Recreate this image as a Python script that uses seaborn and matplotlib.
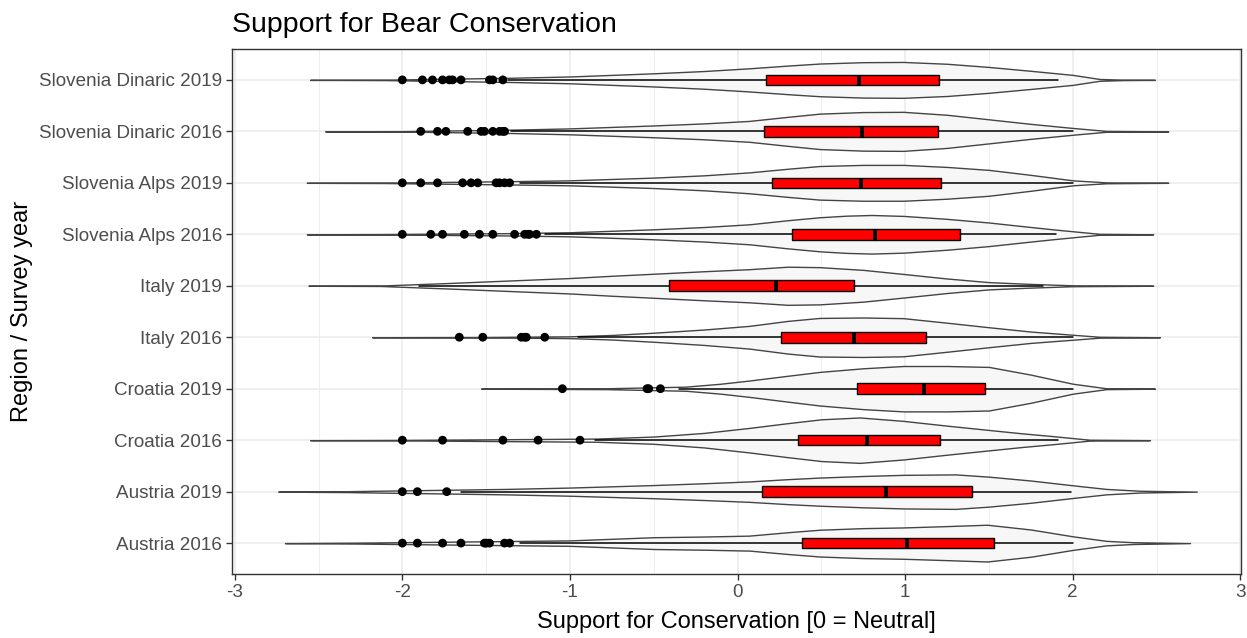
import numpy as np
import pandas as pd
import matplotlib
matplotlib.use("Agg")
import matplotlib.pyplot as plt
import seaborn as sns

# ---------------- data ----------------
categories = ["Austria 2016", "Austria 2019", "Croatia 2016", "Croatia 2019",
              "Italy 2016", "Italy 2019", "Slovenia Alps 2016", "Slovenia Alps 2019",
              "Slovenia Dinaric 2016", "Slovenia Dinaric 2019"]

q1 = [0.383, 0.148, 0.359, 0.711, 0.260, -0.407, 0.327, 0.204, 0.158, 0.168]
median = [1.013, 0.886, 0.775, 1.111, 0.695, 0.228, 0.820, 0.737, 0.745, 0.727]
q3 = [1.532, 1.401, 1.208, 1.477, 1.123, 0.695, 1.330, 1.212, 1.194, 1.204]
whisker_low = [-1.30, -1.65, -0.85, -0.35, -0.95, -1.90, -1.15, -1.30, -1.35, -1.37]
whisker_high = [2.00, 1.99, 1.91, 2.00, 2.00, 1.82, 1.90, 2.00, 2.00, 1.91]

outliers = [
    [-2.00, -1.91, -1.76, -1.65, -1.51, -1.50, -1.48, -1.39, -1.36],          # Austria 2016
    [-2.00, -1.91, -1.735],                                                   # Austria 2019
    [-2.00, -1.76, -1.40, -1.19, -0.94],                                      # Croatia 2016
    [-1.045, -0.54, -0.53, -0.46],                                            # Croatia 2019
    [-1.66, -1.52, -1.29, -1.27, -1.26, -1.15],                               # Italy 2016
    [],                                                                       # Italy 2019
    [-2.00, -1.83, -1.76, -1.63, -1.54, -1.46, -1.33, -1.27, -1.25, -1.24, -1.20],  # SA 2016
    [-2.00, -1.89, -1.79, -1.64, -1.59, -1.55, -1.44, -1.42, -1.39, -1.36],   # SA 2019
    [-1.89, -1.79, -1.74, -1.61, -1.53, -1.51, -1.46, -1.42, -1.40, -1.39],   # SD 2016
    [-2.00, -1.88, -1.82, -1.76, -1.72, -1.70, -1.65, -1.48, -1.46, -1.40],   # SD 2019
]

# violin outlines: support values and relative density (1 = widest violin)
violin_x = [
    [-2.70, -2.27, -1.00, -0.50, -0.20, 0.07, 0.30, 0.49, 0.75, 0.99, 1.25, 1.49, 1.75, 2.00, 2.20, 2.36, 2.70],
    [-2.74, -2.33, -1.38, -1.00, -0.50, -0.20, 0.07, 0.30, 0.49, 0.75, 0.99, 1.30, 1.50, 1.75, 2.00, 2.20, 2.40, 2.74],
    [-2.55, -2.00, -0.84, -0.50, -0.20, 0.07, 0.30, 0.50, 0.73, 0.99, 1.25, 1.50, 1.70, 1.88, 2.10, 2.46],
    [-1.53, -0.78, -0.31, -0.10, 0.07, 0.30, 0.49, 0.75, 0.99, 1.25, 1.50, 1.75, 2.00, 2.20, 2.49],
    [-2.18, -1.50, -1.00, -0.75, -0.50, -0.20, 0.07, 0.30, 0.49, 0.75, 0.99, 1.25, 1.50, 1.75, 2.00, 2.16, 2.52],
    [-2.56, -2.13, -1.73, -1.40, -1.00, -0.75, -0.50, -0.20, 0.07, 0.30, 0.49, 0.75, 0.99, 1.25, 1.50, 1.72, 2.00, 2.48],
    [-2.57, -2.10, -1.38, -1.00, -0.50, -0.20, 0.07, 0.30, 0.49, 0.65, 0.80, 0.99, 1.25, 1.50, 1.70, 1.88, 2.16, 2.48],
    [-2.57, -2.10, -1.38, -1.00, -0.50, -0.20, 0.07, 0.30, 0.49, 0.75, 0.99, 1.25, 1.50, 1.75, 2.00, 2.20, 2.57],
    [-2.46, -2.00, -1.38, -1.00, -0.50, -0.20, 0.07, 0.30, 0.49, 0.75, 0.99, 1.25, 1.50, 1.75, 2.00, 2.20, 2.57],
    [-2.55, -2.10, -1.38, -1.00, -0.50, -0.20, 0.07, 0.30, 0.49, 0.75, 0.99, 1.25, 1.50, 1.75, 2.00, 2.16, 2.30, 2.49],
]
violin_density = [
    [0, .02, .12, .26, .29, .33, .48, .59, .66, .69, .75, .81, .60, .30, .10, .04, 0],
    [0, .02, .12, .18, .29, .37, .45, .55, .62, .69, .74, .76, .66, .49, .28, .12, .04, 0],
    [0, .01, .07, .16, .32, .54, .75, .92, 1.0, .85, .64, .45, .30, .18, .02, 0],
    [0, .02, .09, .22, .36, .57, .74, .90, 1.0, 1.0, .96, .62, .22, .02, 0],
    [0, .01, .04, .10, .20, .34, .50, .72, .85, .87, .84, .64, .44, .25, .11, .02, 0],
    [0, .01, .12, .22, .34, .44, .53, .64, .73, .84, .82, .70, .52, .32, .16, .09, .02, 0],
    [0, .01, .05, .09, .22, .32, .44, .62, .75, .82, .85, .81, .68, .52, .36, .22, .02, 0],
    [0, .01, .07, .11, .23, .33, .46, .62, .74, .79, .79, .70, .57, .35, .11, .02, 0],
    [0, .01, .07, .13, .26, .35, .46, .64, .78, .85, .86, .73, .53, .33, .15, .02, 0],
    [0, .01, .09, .15, .29, .39, .51, .63, .72, .78, .79, .71, .57, .40, .22, .04, .01, 0],
]

x_ticks = [-3, -2, -1, 0, 1, 2, 3]
x_tick_labels = ["-3", "-2", "-1", "0", "1", "2", "3"]

# ---------------- plotting ----------------
sns.set_theme(style="white")
plt.rcParams["font.family"] = ["Liberation Sans", "DejaVu Sans"]

W, H = 1247, 638
fig = plt.figure(figsize=(W / 100, H / 100), dpi=100)
left, right, top, bottom = 231.7, 1241.0, 49.0, 574.0
ax = fig.add_axes([left / W, 1 - bottom / H, (right - left) / W, (bottom - top) / H])

half_max = 0.441
for i, (xs, ds) in enumerate(zip(violin_x, violin_density)):
    xs = np.asarray(xs, float)
    w = np.asarray(ds, float) * half_max
    ax.fill_between(xs, i - w, i + w, facecolor="#F7F7F7", edgecolor="#444444",
                    linewidth=1.0, joinstyle="round", zorder=2)

stats = [dict(med=m, q1=a, q3=b, whislo=lo, whishi=hi, fliers=[])
         for m, a, b, lo, hi in zip(median, q1, q3, whisker_low, whisker_high)]
ax.bxp(stats, positions=list(range(len(categories))), widths=0.205,
       orientation="horizontal", patch_artist=True, showcaps=False, showfliers=False,
       boxprops=dict(facecolor="#FF0000", edgecolor="black", linewidth=1.0),
       medianprops=dict(color="black", linewidth=2.8, solid_capstyle="butt"),
       whiskerprops=dict(color="black", linewidth=1.1),
       manage_ticks=False, zorder=3)

out_df = pd.DataFrame({
    "value": [v for vals in outliers for v in vals],
    "pos": [i for i, vals in enumerate(outliers) for _ in vals],
})
sns.scatterplot(data=out_df, x="value", y="pos", color="black", s=40,
                edgecolor="none", linewidth=0, ax=ax, zorder=4, legend=False)

ax.set_xlim(-3.018, 3.004)
ax.set_ylim(-0.6, len(categories) - 0.4)
ax.set_xticks(x_ticks)
ax.set_xticklabels(x_tick_labels)
ax.set_xticks(np.arange(-2.5, 3.0, 1.0), minor=True)
ax.set_yticks(range(len(categories)))
ax.set_yticklabels(categories)

ax.set_axisbelow(True)
ax.grid(which="major", axis="both", color="#EBEBEB", linewidth=1.1)
ax.grid(which="minor", axis="x", color="#EBEBEB", linewidth=0.6)
ax.tick_params(which="major", direction="out", length=4, width=1.0, color="#333333",
               labelcolor="#4D4D4D", labelsize=13.6, pad=3, bottom=True, left=True)
ax.tick_params(which="minor", length=0)
for sp in ax.spines.values():
    sp.set_visible(True)
    sp.set_color("#333333")
    sp.set_linewidth(1.0)

ax.set_xlabel("Support for Conservation [0 = Neutral]", fontsize=17, color="black", va="center")
ax.xaxis.set_label_coords(0.5, -(622 - bottom) / (bottom - top))
ax.set_ylabel("Region / Survey year", fontsize=17, color="black", va="center")
ax.yaxis.set_label_coords(-(left - 22) / (right - left), 0.5)
ax.set_title("Support for Bear Conservation", loc="left", fontsize=20.5, color="black", pad=12)

fig.savefig("out.png", dpi=100)
